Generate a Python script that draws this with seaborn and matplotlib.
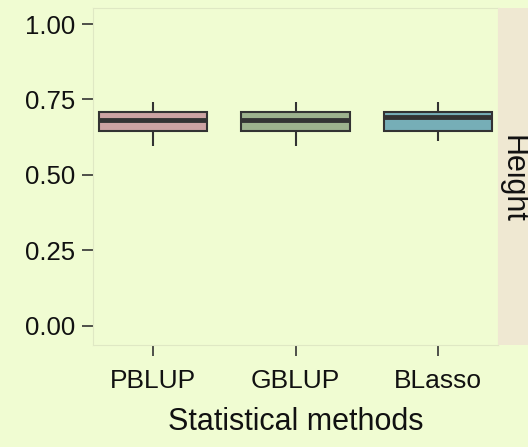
import pandas as pd
import matplotlib.pyplot as plt
import seaborn as sns

# five-number summaries (low whisker, q1, median, q3, high whisker)
methods = ['PBLUP', 'GBLUP', 'BLasso']
pblup = [0.595, 0.646, 0.682, 0.708, 0.742]
gblup = [0.595, 0.646, 0.682, 0.708, 0.742]
blasso = [0.612, 0.646, 0.691, 0.708, 0.742]
colors = ['#d49c9c', '#9cb888', '#6bb6c2']

df = pd.DataFrame({
    'method': [m for m, v in zip(methods, [pblup, gblup, blasso]) for _ in v],
    'accuracy': pblup + gblup + blasso,
})

bg = '#f0fcd2'
dark = '#333333'

sns.set_style('white')
plt.rcParams['font.family'] = ['Liberation Sans', 'DejaVu Sans']

fig = plt.figure(figsize=(5.28, 4.47), dpi=100, facecolor=bg)
ax = fig.add_axes([93/528, 102/447, 405/528, 337/447])
ax.set_facecolor(bg)

sns.boxplot(data=df, x='method', y='accuracy', hue='method', palette=colors,
            order=methods, hue_order=methods, legend=False, ax=ax,
            width=0.76, whis=10, showcaps=False, linecolor=dark, linewidth=1.5,
            medianprops={'color': dark, 'linewidth': 3.5},
            boxprops={'edgecolor': dark})

ax.set_ylim(-0.063, 1.053)
ax.set_yticks([0, 0.25, 0.5, 0.75, 1.0])
ax.set_yticklabels(['0.00', '0.25', '0.50', '0.75', '1.00'])
ax.set_xlim(-0.42, 2.42)
ax.tick_params(axis='both', direction='out', length=8, width=1.2,
               color=dark, labelcolor='#111111', bottom=True, left=True)
ax.tick_params(axis='y', labelsize=18.5, pad=5)
ax.tick_params(axis='x', labelsize=19, pad=9)
ax.set_xlabel('Statistical methods', fontsize=22, color='#111111', labelpad=10)
ax.set_ylabel('')
for s in ax.spines.values():
    s.set_color('#dfe8c4')
    s.set_linewidth(0.8)

# facet strip on the right (runs past the edge of the picture)
strip = fig.add_axes([498/528, 102/447, 60/528, 337/447])
strip.set_facecolor('#efe8d2')
strip.set_xticks([])
strip.set_yticks([])
for s in strip.spines.values():
    s.set_visible(False)
fig.text(512/528, 0.5 * (102 + 439) / 447 - 0.005, 'Height', rotation=-90,
         ha='center', va='center', fontsize=22, color='#111111')

plt.savefig('out.png', dpi=100, facecolor=bg)
